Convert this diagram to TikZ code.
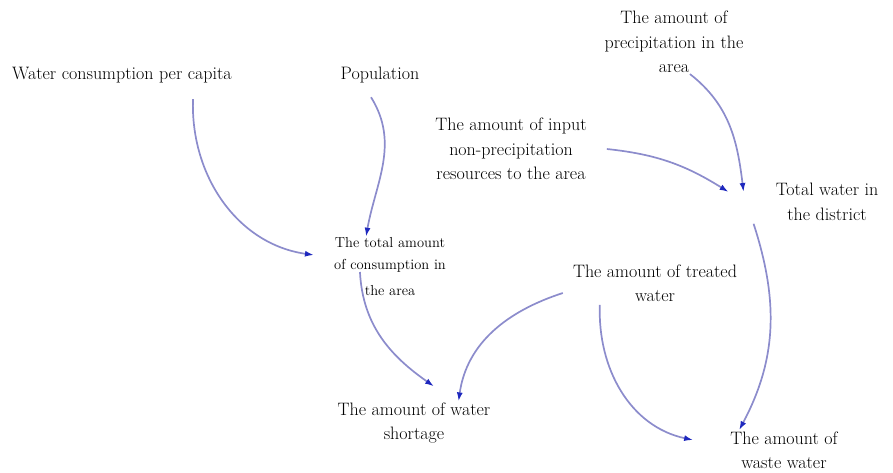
\documentclass[tikz,border=0pt]{standalone}
\usepackage{xcolor}
\usetikzlibrary{
  arrows.meta,
  positioning,
  calc
}
\definecolor{linkline}{RGB}{140,140,204}
\definecolor{linktip}{RGB}{30,40,190}

\begin{document}
\begin{tikzpicture}
  [
    x=1pt, y=1pt,
    every node/.style={inner sep=1pt, align=center, text=black,
      font=\fontsize{18}{24.5}\selectfont},
    var/.style={},
    smallvar/.style={font=\fontsize{14.5}{22}\selectfont},
    link/.style={draw=linkline, line width=1.7pt,
      -{Latex[length=9pt,width=6pt,color=linktip]}},
  ]
  \useasboundingbox (0,0) rectangle (893,-472);
  % variables
  \node [var] (wcpc) at (122,-75) {Water consumption per capita};
  \node [var] (pop) at (380,-75) {Population};
  \node [var] (precip) at (674,-42) {The amount of\\precipitation in the\\area};
  \node [var] (input) at (511,-149) {The amount of input\\non-precipitation\\resources to the area};
  \node [var] (totalw) at (827,-202) {Total water in\\the district};
  \node [smallvar] (total) at (390,-267) {The total amount\\of consumption in\\[4pt]the area};
  \node [var] (treated) at (655,-283) {The amount of treated\\water};
  \node [var] (shortage) at (414,-423) {The amount of water\\shortage};
  \node [var] (waste) at (784,-450) {The amount of\\waste water};

  % links
  \draw [link] ([xshift=71pt,yshift=-15pt]wcpc.south) to[out=-92,in=172] ([xshift=-19pt,yshift=12pt]total.west);
  \draw [link] ([xshift=-9pt,yshift=-13pt]pop.south) to[out=-58,in=80] ([xshift=-24pt]total.north);
  \draw [link] ([xshift=16pt]precip.south) to[out=-38,in=97] ([xshift=-31pt,yshift=10pt]totalw.west);
  \draw [link] ([xshift=19pt]input.east) to[out=-6,in=148] ([xshift=-46pt,yshift=10pt]totalw.west);
  \draw [link] ([xshift=-21pt,yshift=-2pt]totalw.south west) to[out=-72,in=62] ([xshift=10pt]waste.north west);
  \draw [link] ([xshift=27pt,yshift=-5pt]total.west) to[out=-87,in=145] ([xshift=20pt,yshift=15pt]shortage.north);
  \draw [link] ([xshift=-9pt,yshift=-10pt]treated.west) to[out=198,in=82] ([xshift=-33pt]shortage.north east);
  \draw [link] ([xshift=28pt,yshift=-2pt]treated.south west) to[out=-92,in=168] ([xshift=-36pt,yshift=10pt]waste.west);
\end{tikzpicture}
\end{document}
